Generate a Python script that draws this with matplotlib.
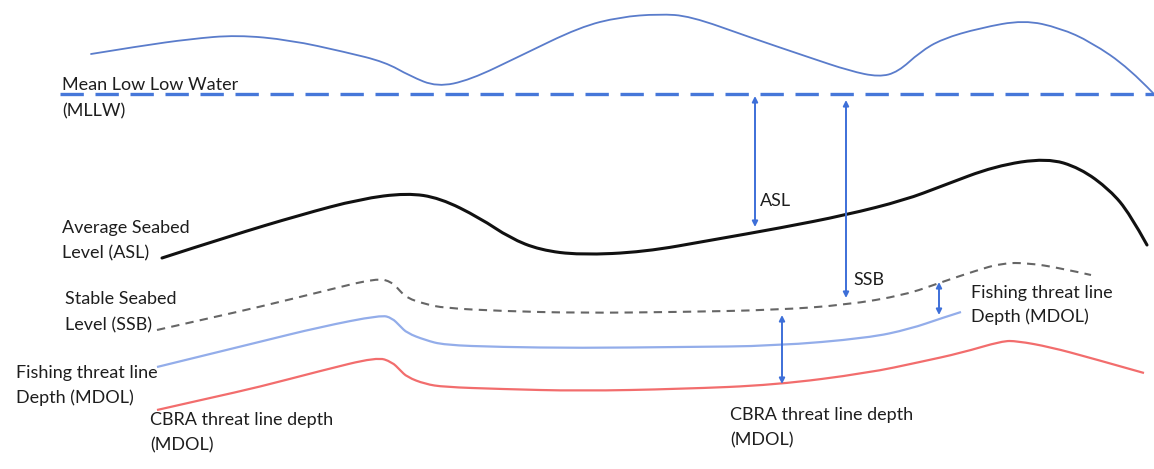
import matplotlib
matplotlib.use("Agg")
import matplotlib.pyplot as plt
from matplotlib.path import Path
from matplotlib.patches import PathPatch

# Schematic curves (x, y in picture units; y grows downward)
tide_x = [91, 140, 190, 237, 290, 345, 385, 410, 437, 470, 520, 580, 620, 659, 690, 749, 808, 850, 879, 898, 920, 942, 980, 1024, 1060, 1091, 1129, 1153]
tide_y = [54, 46, 39, 35, 40, 52, 62, 76, 87, 80, 56, 27, 17, 14, 16, 37, 57, 71, 77, 72, 52, 39, 28, 20, 28, 42, 68, 93]

mllw_x = [60, 1154]
mllw_y = [94, 94]

asl_x = [162, 230, 300, 360, 407, 440, 480, 510, 540, 580, 644, 712, 780, 846, 905, 942, 995, 1047, 1080, 1110, 1130, 1147]
asl_y = [258, 236, 215, 199, 193, 198, 218, 238, 250, 255, 252, 240, 228, 215, 200, 186, 166, 158, 168, 190, 214, 245]

ssb_x = [157, 210, 259, 320, 377, 392, 400, 407, 425, 444, 500, 580, 680, 775, 846, 905, 942, 975, 1002, 1028, 1060, 1091]
ssb_y = [330, 318, 307, 292, 278, 282, 291, 298, 304, 308, 311, 313, 312, 310, 305, 295, 282, 271, 263, 263, 268, 275]

fish_x = [157, 210, 259, 320, 381, 392, 400, 407, 425, 444, 500, 580, 680, 775, 868, 910, 942, 961]
fish_y = [367, 354, 342, 327, 315, 318, 326, 333, 340, 345, 347, 348, 347, 346, 338, 329, 318, 312]

cbra_x = [157, 210, 259, 320, 377, 392, 400, 407, 425, 444, 500, 580, 680, 775, 868, 920, 961, 1002, 1017, 1050, 1091, 1144]
cbra_y = [410, 398, 387, 371, 357, 362, 370, 377, 384, 387, 389, 391, 389, 385, 373, 362, 353, 341, 341, 347, 358, 373]

# Measurement arrows: x, y_top, y_bottom
arrow_x = [755, 846, 939, 782]
arrow_top = [96, 100, 282, 315]
arrow_bot = [227, 298, 315, 384]

# Labels
label_text = ["Mean Low Low Water", "(MLLW)", "Average Seabed", "Level (ASL)",
              "Stable Seabed", "Level (SSB)", "Fishing threat line", "Depth (MDOL)",
              "CBRA threat line depth", "(MDOL)", "ASL", "SSB",
              "Fishing threat line", "Depth (MDOL)", "CBRA threat line depth", "(MDOL)"]
label_x = [62, 62, 62, 62, 65, 65, 16, 16, 150, 150, 760, 853, 971, 971, 730, 730]
label_y = [85, 111, 228, 253, 299, 325, 373, 398, 420, 445, 201, 280, 293, 317, 415, 440]

W, H = 1154, 469
fig = plt.figure(figsize=(W / 100, H / 100), dpi=100)
ax = fig.add_axes([0, 0, 1, 1])
ax.set_xlim(0, W)
ax.set_ylim(H, 0)
ax.axis("off")


def smooth_curve(xs, ys, **kw):
    """Draw a smooth quadratic-Bezier path using the read points as control points."""
    pts = list(zip(xs, ys))
    verts = [pts[0]]
    codes = [Path.MOVETO]
    for i in range(1, len(pts) - 1):
        mid = ((pts[i][0] + pts[i + 1][0]) / 2, (pts[i][1] + pts[i + 1][1]) / 2)
        if i == len(pts) - 2:
            mid = pts[-1]
        verts += [pts[i], mid]
        codes += [Path.CURVE3, Path.CURVE3]
    patch = PathPatch(Path(verts, codes), facecolor="none", **kw)
    ax.add_patch(patch)


smooth_curve(tide_x, tide_y, edgecolor="#5A7CCB", lw=1.3, capstyle="round")
ax.plot(mllw_x, mllw_y, color="#4677D9", lw=2.4, dashes=(7, 3.5))
smooth_curve(asl_x, asl_y, edgecolor="#111111", lw=2.2, capstyle="round")
smooth_curve(ssb_x, ssb_y, edgecolor="#666666", lw=1.5, linestyle=(0, (4, 3)))
smooth_curve(fish_x, fish_y, edgecolor="#93ADEA", lw=1.6)
smooth_curve(cbra_x, cbra_y, edgecolor="#F26D6D", lw=1.6)

for x, t, b in zip(arrow_x, arrow_top, arrow_bot):
    ax.annotate("", xy=(x, t), xytext=(x, b),
                arrowprops=dict(arrowstyle="<|-|>", color="#3D6FD8", lw=1.4,
                                mutation_scale=8, shrinkA=0, shrinkB=0))

for s, x, y in zip(label_text, label_x, label_y):
    ax.text(x, y, s, fontsize=13, family="Lato", color="#1e1e1e", ha="left", va="center")

fig.savefig("out.png", dpi=100, facecolor="white")
